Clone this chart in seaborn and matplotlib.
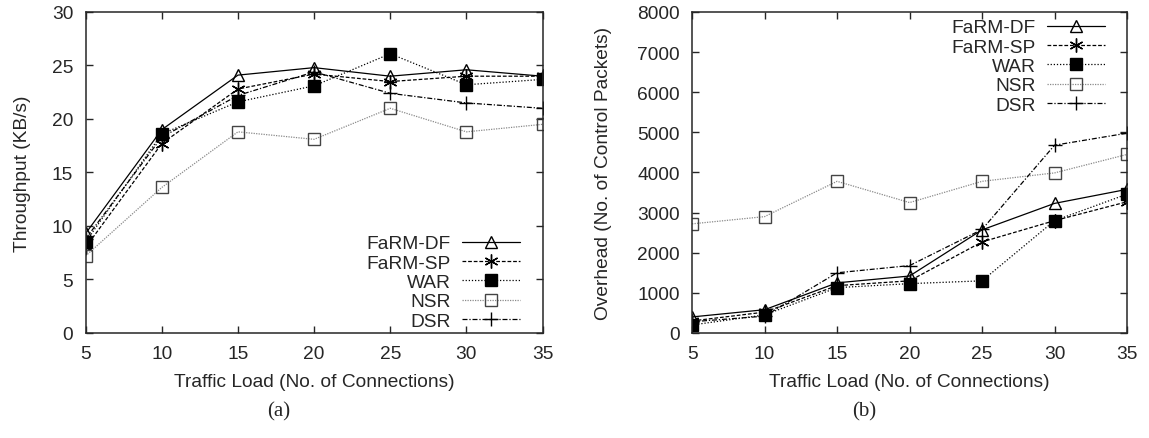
import numpy as np
import pandas as pd
import matplotlib
matplotlib.use('Agg')
import matplotlib.pyplot as plt
import seaborn as sns

# traffic load (no. of connections)
loads = [5, 10, 15, 20, 25, 30, 35]
protocols = ['FaRM-DF', 'FaRM-SP', 'WAR', 'NSR', 'DSR']

# (a) throughput, KB/s
thr_farm_df = [9.3, 19.0, 24.1, 24.8, 24.0, 24.6, 24.0]
thr_farm_sp = [8.0, 17.7, 22.8, 24.2, 23.5, 24.0, 24.0]
thr_war = [8.5, 18.6, 21.6, 23.1, 26.1, 23.2, 23.7]
thr_nsr = [7.2, 13.6, 18.8, 18.1, 21.0, 18.8, 19.5]
thr_dsr = [8.8, 18.3, 22.2, 24.4, 22.4, 21.5, 21.0]

# (b) overhead, no. of control packets
ovh_farm_df = [400, 580, 1250, 1420, 2570, 3230, 3580]
ovh_farm_sp = [300, 520, 1180, 1300, 2270, 2800, 3270]
ovh_war = [200, 450, 1130, 1230, 1300, 2800, 3460]
ovh_nsr = [2720, 2900, 3780, 3250, 3780, 3990, 4450]
ovh_dsr = [280, 420, 1500, 1680, 2580, 4680, 4980]

thr = [thr_farm_df, thr_farm_sp, thr_war, thr_nsr, thr_dsr]
ovh = [ovh_farm_df, ovh_farm_sp, ovh_war, ovh_nsr, ovh_dsr]

rows = []
for p, t, o in zip(protocols, thr, ovh):
    for x, a, b in zip(loads, t, o):
        rows.append((p, x, a, b))
df = pd.DataFrame(rows, columns=['protocol', 'load', 'throughput', 'overhead'])

sns.set_style('ticks')
plt.rcParams['font.family'] = ['Liberation Sans', 'DejaVu Sans']
FS = 13.8

# gnuplot-like look per series
styles = {
    'FaRM-DF': dict(color='black', dashes=None, marker='^', ms=8.5, mfc='none', mec='black'),
    'FaRM-SP': dict(color='black', dashes=(3, 1.5), marker=(6, 2, 0), ms=10, mfc='none', mec='black'),
    'WAR': dict(color='black', dashes=(1, 1.5), marker='s', ms=8.5, mfc='black', mec='black'),
    'NSR': dict(color='#8a8a8a', dashes=(1, 1), marker='s', ms=8.5, mfc='none', mec='#444444'),
    'DSR': dict(color='black', dashes=(4, 1.5, 1, 1.5), marker='+', ms=10, mfc='none', mec='black'),
}

fig = plt.figure(figsize=(11.49, 4.39), dpi=100)
ax1 = fig.add_axes([0.0745, 0.2392, 0.3977, 0.7312])
ax2 = fig.add_axes([0.6023, 0.2392, 0.3786, 0.7312])

for ax, col in [(ax1, 'throughput'), (ax2, 'overhead')]:
    for p in protocols:
        st = dict(styles[p])
        d = df[df.protocol == p]
        dash = st.pop('dashes')
        sns.lineplot(x=d['load'], y=d[col], ax=ax, label=p, lw=0.9,
                     markeredgewidth=1.0, **st)
        if dash is not None:
            ax.lines[-1].set_dashes(dash)
    ax.set_xlim(5, 35)
    ax.set_xticks(loads)
    ax.tick_params(direction='in', top=True, right=True, length=5, width=1,
                   labelsize=FS, pad=9)
    for s in ax.spines.values():
        s.set_linewidth(1.1)
        s.set_visible(True)
    ax.set_xlabel('Traffic Load (No. of Connections)', fontsize=FS)
    ax.xaxis.set_label_coords(0.5, -0.125)

ax1.set_ylim(0, 30)
ax1.set_yticks(range(0, 31, 5))
ax1.set_ylabel('Throughput (KB/s)', fontsize=FS)
ax1.yaxis.set_label_coords(-0.12, 0.5)

ax2.set_ylim(0, 8000)
ax2.set_yticks(range(0, 8001, 1000))
ax2.set_ylabel('Overhead (No. of Control Packets)', fontsize=FS)
ax2.yaxis.set_label_coords(-0.183, 0.5)

leg_kw = dict(markerfirst=False, frameon=False, handlelength=3.0, handletextpad=0.6,
              labelspacing=0.1, borderpad=0, borderaxespad=0, fontsize=FS)
ax1.legend(loc='lower right', bbox_to_anchor=(0.95, 0.01), **leg_kw)
ax2.legend(loc='upper right', bbox_to_anchor=(0.949, 0.978), **leg_kw)

fig.text(279 / 1149, 1 - 412 / 439, '(a)', ha='center', va='center',
         family=['Liberation Serif', 'DejaVu Serif'], fontsize=15)
fig.text(864 / 1149, 1 - 412 / 439, '(b)', ha='center', va='center',
         family=['Liberation Serif', 'DejaVu Serif'], fontsize=15)

fig.savefig('out.png', dpi=100)
